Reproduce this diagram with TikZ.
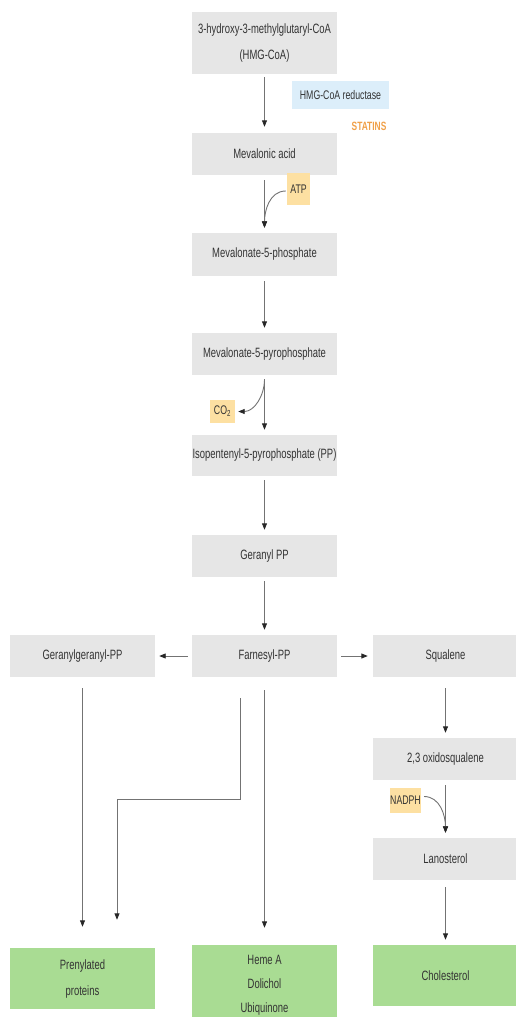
\documentclass[tikz,border=0pt]{standalone}
\usepackage{fontspec}
\setmainfont{Liberation Sans}[FakeStretch=0.7]
\usetikzlibrary{arrows.meta,calc}
\definecolor{boxgray}{HTML}{E6E6E6}
\definecolor{boxgreen}{HTML}{A9DC93}
\definecolor{boxblue}{HTML}{DCEEFA}
\definecolor{boxorange}{HTML}{FDE0A2}
\definecolor{statorange}{HTML}{F0A048}
\definecolor{txt}{HTML}{333333}
\definecolor{linegray}{HTML}{737373}
\begin{document}
\begin{tikzpicture}[x=1pt,y=-1pt,
  box/.style={fill=boxgray, minimum width=145pt, minimum height=42pt, inner sep=0pt,
    align=center, text=txt, font=\fontsize{13.5}{24}\selectfont},
  endbox/.style={box, fill=boxgreen},
  tag/.style={fill=boxorange, inner sep=0pt, text=txt, font=\fontsize{12.5}{14}\selectfont},
  arr/.style={draw=linegray, line width=0.9pt,
    -{Triangle[length=6.5pt,width=5pt,color=black!85]}},
]
\useasboundingbox (0,0) rectangle (515,1017);

% nodes
\node[box, minimum height=62pt, font=\fontsize{13.5}{26}\selectfont] (hmg) at (264.5,43) {3-hydroxy-3-methylglutaryl-CoA\\(HMG-CoA)};
\node[fill=boxblue, minimum width=97pt, minimum height=28pt, inner sep=0pt, text=txt,
  font=\fontsize{12.5}{14}\selectfont] (red) at (340.5,95) {HMG-CoA reductase};
\node[text=statorange, inner sep=0pt, font=\fontsize{12}{13}\selectfont\bfseries] (stat) at (369,126) {STATINS};
\node[box] (mev) at (264.5,154) {Mevalonic acid};
\node[tag, minimum width=23pt, minimum height=32pt] (atp) at (298.5,189) {ATP};
\node[box, minimum height=43pt] (m5p) at (264.5,254.5) {Mevalonate-5-phosphate};
\node[box] (m5pp) at (264.5,354) {Mevalonate-5-pyrophosphate};
\node[tag, minimum width=25pt, minimum height=23pt] (co2) at (222.5,411.5) {CO\textsubscript{2}};
\node[box, minimum height=41pt] (ipp) at (264.5,455.5) {Isopentenyl-5-pyrophosphate (PP)};
\node[box] (ger) at (264.5,556) {Geranyl PP};
\node[box] (far) at (264.5,656) {Farnesyl-PP};
\node[box] (gg) at (82.5,656) {Geranylgeranyl-PP};
\node[box] (sq) at (445.5,656) {Squalene};
\node[box] (oxi) at (445.5,759) {2,3 oxidosqualene};
\node[tag, minimum width=29pt, minimum height=25pt] (nadph) at (405.5,800.5) {NADPH};
\node[box] (lan) at (445.5,859) {Lanosterol};
\node[endbox, minimum height=61pt, font=\fontsize{13.5}{26}\selectfont] (pren) at (82.5,978.5) {Prenylated\\proteins};
\node[endbox, minimum height=80pt] (heme) at (264.5,985) {Heme A\\Dolichol\\Ubiquinone};
\node[endbox, minimum height=61pt] (chol) at (445.5,975.5) {Cholesterol};

% main column
\draw[arr, shorten <=3pt, shorten >=6pt] (hmg) -- (mev);
\draw[arr, shorten <=5pt, shorten >=5pt] (mev) -- (m5p);
\draw[arr, shorten <=5pt, shorten >=5pt] (m5p) -- (m5pp);
\draw[arr, shorten <=4pt, shorten >=5pt] (m5pp) -- (ipp);
\draw[arr, shorten <=4pt, shorten >=5pt] (ipp) -- (ger);
\draw[arr, shorten <=4pt, shorten >=5pt] (ger) -- (far);

% side inputs / outputs
\coordinate (atpend) at ($(m5p.north)+(0,-5)$);
\draw[arr] ([xshift=-1pt,yshift=-2pt]atp.west) to[out=180,in=90] (atpend);
\coordinate (co2start) at ($(m5pp.south)+(0,4)$);
\draw[arr] (co2start) to[out=270,in=0] ([xshift=3pt]co2.east);
\coordinate (nadend) at ($(lan.north)+(0,-5)$);
\draw[arr] ([xshift=3pt,yshift=4pt]nadph.east) to[out=0,in=90] (nadend);

% branches
\draw[arr, shorten <=4pt, shorten >=4pt] (far) -- (gg);
\draw[arr, shorten <=4pt, shorten >=5pt] (far) -- (sq);

\draw[arr, shorten <=11pt, shorten >=5pt] (sq) -- (oxi);
\draw[arr, shorten <=5pt, shorten >=5pt] (oxi) -- (lan);
\draw[arr, shorten <=7pt, shorten >=5pt] (lan) -- (chol);

\draw[arr, shorten <=11pt, shorten >=21pt] (gg) -- (pren);
\draw[arr, shorten <=13pt, shorten >=17pt] (far) -- (heme);
\draw[arr] ([xshift=-24.5pt,yshift=-21pt]far.south) -- ++(0,101)
  -| ([xshift=34.5pt,yshift=28pt]pren.north);
\end{tikzpicture}
\end{document}
